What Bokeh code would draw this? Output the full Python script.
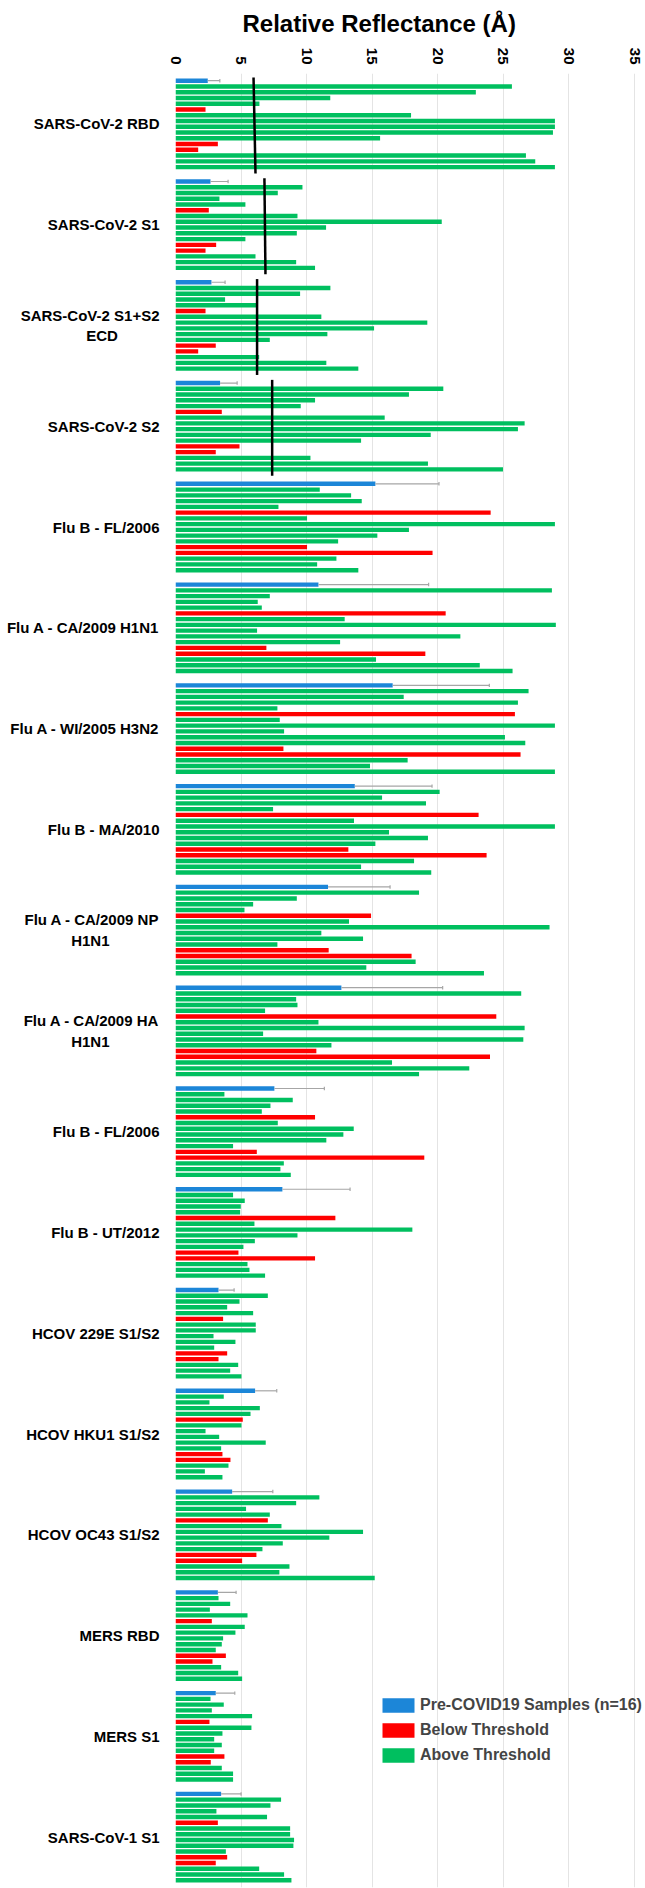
import math
from bokeh.plotting import figure
from bokeh.models import ColumnDataSource, Range1d, FixedTicker, Legend, LegendItem
from bokeh.embed import file_html
from bokeh.resources import INLINE

# ---------------- data ----------------
NB = "\u00a0"
antigens = [
    "SARS-CoV-2 RBD", "SARS-CoV-2 S1", "SARS-CoV-2 S1+S2\nECD" + NB * 10, "SARS-CoV-2 S2",
    "Flu B - FL/2006", "Flu A - CA/2009 H1N1", "Flu A - WI/2005 H3N2", "Flu B - MA/2010",
    "Flu A - CA/2009 NP\nH1N1" + NB * 12, "Flu A - CA/2009 HA\nH1N1" + NB * 12, "Flu B - FL/2006",
    "Flu B - UT/2012", "HCOV 229E S1/S2", "HCOV HKU1 S1/S2", "HCOV OC43 S1/S2", "MERS RBD",
    "MERS S1", "SARS-CoV-1 S1",
]

# Pre-COVID19 samples (n=16): mean and standard deviation
precovid_mean = [2.46, 2.67, 2.74, 3.40, 15.24, 10.90, 16.56, 13.67, 11.63, 12.65,
                 7.54, 8.15, 3.28, 6.07, 4.32, 3.23, 3.07, 3.48]
precovid_sd = [0.92, 1.34, 1.04, 1.30, 4.85, 8.40, 7.37, 5.89, 4.73, 7.72,
               3.81, 5.16, 1.19, 1.65, 3.10, 1.39, 1.45, 1.52]

# 15 COVID-19 samples per antigen
rbd_cov2 = [25.65, 22.90, 11.80, 6.40, 2.29, 17.96, 28.93, 28.93, 28.78, 15.60, 3.23, 1.73, 26.72, 27.43, 28.93]
s1_cov2 = [9.68, 7.80, 3.35, 5.33, 2.54, 9.30, 20.30, 11.48, 9.25, 5.33, 3.10, 2.29, 6.10, 9.20, 10.64]
ecd_cov2 = [11.81, 9.50, 3.78, 6.17, 2.29, 11.12, 19.20, 15.14, 11.58, 7.19, 3.07, 1.73, 6.38, 11.50, 13.94]
s2_cov2 = [20.42, 17.80, 10.64, 9.55, 3.53, 15.95, 26.62, 26.11, 19.46, 14.15, 4.88, 3.07, 10.29, 19.25, 24.97]
flub_fl2006_a = [11.00, 13.39, 14.20, 7.85, 24.03, 10.03, 28.93, 17.80, 15.39, 12.40, 10.03, 19.60, 12.27, 10.80, 13.94]
flua_h1n1 = [28.70, 7.19, 6.27, 6.58, 20.60, 12.90, 29.00, 6.22, 21.72, 12.55, 6.93, 19.05, 15.29, 23.20, 25.70]
flua_h3n2 = [26.92, 17.40, 26.11, 7.77, 25.88, 7.95, 28.93, 8.28, 25.12, 26.67, 8.23, 26.31, 17.70, 14.83, 28.93]
flub_ma2010 = [20.14, 15.75, 19.10, 7.44, 23.11, 13.61, 28.93, 16.28, 19.25, 15.24, 13.18, 23.72, 18.19, 14.15, 19.50]
flua_np = [18.57, 9.25, 5.92, 5.26, 14.91, 13.23, 28.52, 11.12, 14.30, 7.77, 11.68, 18.00, 18.31, 14.55, 23.52]
flua_ha = [26.36, 9.20, 9.30, 6.83, 24.46, 10.90, 26.62, 6.68, 26.52, 11.89, 10.74, 23.98, 16.51, 22.40, 18.57]
flub_fl2006_b = [3.73, 8.94, 7.24, 6.58, 10.64, 7.80, 13.59, 12.80, 11.50, 4.39, 6.20, 18.97, 8.26, 8.00, 8.79]
flub_ut2012 = [4.39, 5.28, 4.98, 4.93, 12.19, 6.02, 18.06, 9.30, 6.05, 5.18, 4.80, 10.64, 5.49, 5.64, 6.83]
hcov_229e = [7.04, 4.88, 3.94, 5.92, 3.63, 6.12, 6.12, 2.90, 4.57, 2.95, 3.94, 3.28, 4.78, 4.17, 5.03]
hcov_hku1 = [3.68, 2.59, 6.43, 5.72, 5.13, 5.03, 2.29, 3.33, 6.88, 3.48, 3.58, 4.19, 4.04, 2.24, 3.58]
hcov_oc43 = [10.97, 9.20, 5.38, 7.19, 7.04, 8.08, 14.30, 11.73, 8.18, 6.63, 6.17, 5.08, 8.69, 7.92, 15.19]
mers_rbd = [3.28, 4.17, 2.62, 5.49, 2.77, 5.28, 4.57, 3.63, 3.53, 3.07, 3.84, 2.82, 3.48, 4.78, 5.08]
mers_s1 = [2.67, 3.68, 2.77, 5.84, 2.59, 5.79, 3.58, 2.95, 3.53, 2.95, 3.73, 2.69, 3.53, 4.39, 4.39]
s1_cov1 = [8.05, 7.24, 3.12, 6.98, 3.23, 8.74, 8.74, 9.04, 8.99, 3.84, 3.94, 3.07, 6.38, 8.28, 8.84]

sample_values = [rbd_cov2, s1_cov2, ecd_cov2, s2_cov2, flub_fl2006_a, flua_h1n1, flua_h3n2,
                 flub_ma2010, flua_np, flua_ha, flub_fl2006_b, flub_ut2012, hcov_229e,
                 hcov_hku1, hcov_oc43, mers_rbd, mers_s1, s1_cov1]

# samples (1-based) below threshold
below_threshold_samples = [5, 11, 12]

# threshold lines (first four SARS-CoV-2 antigens), value at top and bottom of the drawn line
threshold_top = [5.95, 6.78, 6.22, 7.37]
threshold_bottom = [6.10, 6.86, 6.22, 7.37]

x_tick_values = [0, 5, 10, 15, 20, 25, 30, 35]

# ---------------- layout helpers ----------------
GROUP_PITCH = 17.5
FONT = "Liberation Sans"

blue_y = [g * GROUP_PITCH for g in range(len(antigens))]
red = dict(y=[], right=[])
green = dict(y=[], right=[])
for g, vals in enumerate(sample_values):
    for k, v in enumerate(vals):
        target = red if (k + 1) in below_threshold_samples else green
        target["y"].append(blue_y[g] + k + 1)
        target["right"].append(v)

# frame spans 175..644 px; 35 sits at ~634 px, leaving room on the right for the legend text
p = figure(width=645, height=1888, x_range=Range1d(0, 35.76), y_range=Range1d(313.75, -1.25),
           x_axis_location="above", output_backend="svg", toolbar_location=None,
           min_border_left=175, min_border_right=1, min_border_top=72, min_border_bottom=1)

p.title.text = "Relative Reflectance (Å)"
p.title.text_font = FONT
p.title.text_font_size = "24px"
p.title.text_font_style = "bold"
p.title.text_color = "black"
p.title.align = "left"
p.title.offset = 67
p.title.standoff = 15

BAR_H = 0.76
r_blue = p.hbar(y=blue_y, right=precovid_mean, left=0, height=BAR_H,
                fill_color="#1C86D8", line_color=None)
r_red = p.hbar(y="y", right="right", left=0, height=BAR_H, source=ColumnDataSource(red),
               fill_color="#FF0000", line_color=None)
r_green = p.hbar(y="y", right="right", left=0, height=BAR_H, source=ColumnDataSource(green),
                 fill_color="#00BF5F", line_color=None)

# error bars
err_hi = [m + s for m, s in zip(precovid_mean, precovid_sd)]
p.segment(x0=precovid_mean, y0=blue_y, x1=err_hi, y1=blue_y, line_color="#A6A6A6", line_width=1.2)
p.segment(x0=err_hi, y0=[y - 0.3 for y in blue_y], x1=err_hi, y1=[y + 0.3 for y in blue_y],
          line_color="#A6A6A6", line_width=1.2)

# threshold lines
p.segment(x0=threshold_top, y0=[blue_y[g] - 0.55 for g in range(4)],
          x1=threshold_bottom, y1=[blue_y[g] + 16.1 for g in range(4)],
          line_color="black", line_width=2.5)

# axes
p.xaxis.ticker = FixedTicker(ticks=x_tick_values)
p.xgrid.ticker = FixedTicker(ticks=x_tick_values)
p.xgrid.grid_line_color = "#E4E4E4"
p.ygrid.grid_line_color = None
p.xaxis.major_label_orientation = -math.pi / 2
p.xaxis.major_label_text_font = FONT
p.xaxis.major_label_text_font_size = "15px"
p.xaxis.major_label_text_font_style = "bold"
p.xaxis.major_label_text_color = "black"
p.xaxis.major_label_standoff = 3

centers = [blue_y[g] + 7.5 for g in range(len(antigens))]
p.yaxis.ticker = FixedTicker(ticks=centers)
p.yaxis.major_label_overrides = {c: name for c, name in zip(centers, antigens)}
p.yaxis.major_label_text_font = FONT
p.yaxis.major_label_text_font_size = "15px"
p.yaxis.major_label_text_font_style = "bold"
p.yaxis.major_label_text_color = "black"
p.yaxis.major_label_standoff = 10

for ax in (p.xaxis, p.yaxis):
    ax.axis_line_color = None
    ax.major_tick_line_color = None
    ax.minor_tick_line_color = None
p.outline_line_color = None

legend = Legend(items=[
    LegendItem(label="Pre-COVID19 Samples (n=16)", renderers=[r_blue]),
    LegendItem(label="Below Threshold", renderers=[r_red]),
    LegendItem(label="Above Threshold", renderers=[r_green]),
], location=(203, 123), orientation="vertical", glyph_width=40, glyph_height=18,
    label_height=18, spacing=7, padding=0, margin=0, label_standoff=2,
    label_text_font=FONT, label_text_font_size="16px", label_text_font_style="bold",
    border_line_color=None, background_fill_alpha=0)
p.add_layout(legend, "center")

open("out.html", "w").write(file_html(p, INLINE))
